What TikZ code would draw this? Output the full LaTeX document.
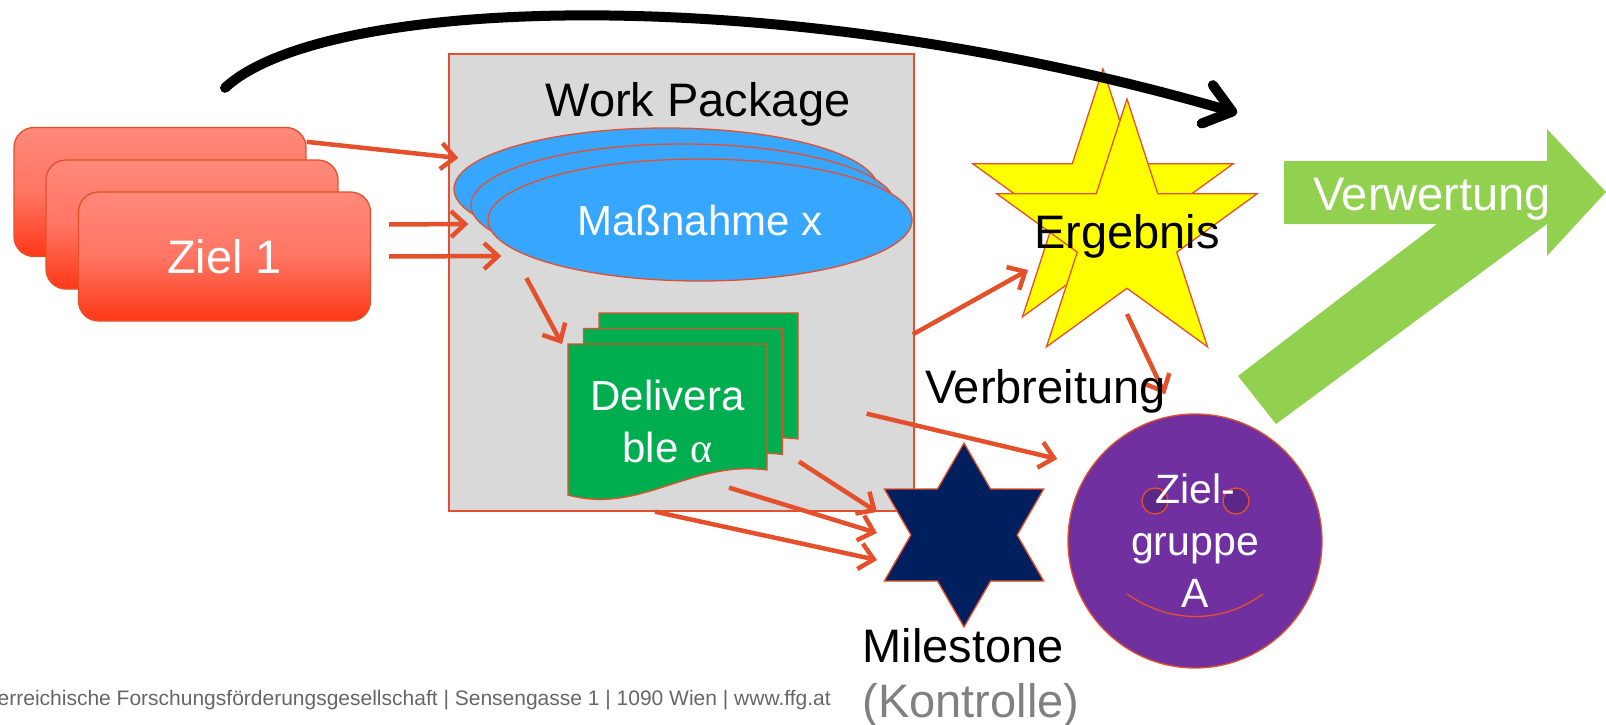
\documentclass[tikz,border=0pt]{standalone}
\usepackage{fontspec}
\setmainfont{Liberation Sans}
\newfontfamily\greekfont{Liberation Serif}
\usepackage{xcolor}
\usepackage{tikz}
\usetikzlibrary{positioning,shapes.geometric,arrows.meta}

\definecolor{ffgred}{HTML}{E4502B}
\definecolor{zielTop}{HTML}{FF8979}
\definecolor{zielMid}{HTML}{FF7563}
\definecolor{zielBot}{HTML}{FF3817}
\definecolor{wpgray}{HTML}{D9D9D9}
\definecolor{massblue}{HTML}{37A6FE}
\definecolor{delgreen}{HTML}{00AE50}
\definecolor{ergyellow}{HTML}{FFFF00}
\definecolor{milenavy}{HTML}{001F5E}
\definecolor{zgpurple}{HTML}{7030A0}
\definecolor{eyepurple}{HTML}{5C2888}
\definecolor{verwgreen}{HTML}{92D050}
\definecolor{kontgray}{HTML}{808080}
\definecolor{footgray}{HTML}{666666}

\begin{document}
\begin{tikzpicture}[x=1pt, y=-1pt,
    every node/.style={font=\fontsize{47}{52}\selectfont, inner sep=2pt},
    zielbox/.style={rectangle, rounded corners=20pt, draw=ffgred, line width=1.3pt, top color=zielTop, bottom color=zielBot, middle color=zielMid, minimum width=292pt, minimum height=129pt, text=white},
    massbox/.style={ellipse, draw=ffgred, line width=1.3pt, fill=massblue, minimum width=424pt, minimum height=122pt, text=white, font=\fontsize{42}{48}\selectfont},
    docsheet/.style={draw=ffgred, line width=1.3pt, fill=delgreen},
    ergstar/.style={star, star points=5, star point ratio=2.62, draw=ffgred, line width=1.3pt, fill=ergyellow, minimum size=274pt, inner sep=0pt},
    milestar/.style={star, star points=6, star point ratio=1.732, draw=ffgred, line width=1.3pt, fill=milenavy, minimum size=184pt, inner sep=0pt},
    zgcircle/.style={circle, draw=ffgred, line width=1.3pt, fill=zgpurple, minimum size=254pt},
    eye/.style={circle, draw=ffgred, line width=1.3pt, fill=eyepurple, minimum size=26pt, inner sep=0pt},
    flow/.style={draw=ffgred, line width=4.5pt, -{Straight Barb[length=14pt,width=26pt]}},
    bigflow/.style={draw=black, line width=10pt, line cap=round, -{Straight Barb[length=26pt,width=40pt,round]}},
    labw/.style={text=white}]
    \useasboundingbox (0,0) rectangle (1606,725);

    % work package
    \node[rectangle, draw=ffgred, line width=1.3pt, fill=wpgray, minimum width=465pt, minimum height=457pt] (wp) at (681.5,282.5) {};
    \node[anchor=base] (wptitle) at (698,116) {Work Package};

    \node[massbox] (mass1) at (666,189) {};
    \node[massbox] (mass2) at (683,205) {};
    \node[massbox] (mass3) at (700,220) {Maßnahme x};

    % deliverables
    \foreach \d in {31,15.5,0}
      \draw[docsheet, shift={(\d,-\d)}] (568,344) -- (767,344) -- (767,470) .. controls (690,460) and (640,515) .. (568,495) -- cycle;
    \coordinate (docA) at (568,344);
    \node[labw, align=center, font=\fontsize{42}{52}\selectfont] (deliv) at (667.5,421) {Delivera\\ble {\greekfont α}};

    % goals
    \node[zielbox] (zielA) at (160,192) {};
    \node[zielbox] (zielB) at (192,224.5) {};
    \node[zielbox] (zielC) at (224.5,256.5) {Ziel 1};

    % exploitation arrow
    \fill[verwgreen] (1284,161) -- (1547,161) -- (1547,129) -- (1606,192) -- (1547,256) -- (1547,224)
      -- (1276,424) -- (1238,376) -- (1437,224) -- (1284,224) -- cycle;
    \node[labw, anchor=base] (verw) at (1432,210) {Verwertung};

    % results
    \node[ergstar] (ergB) at (1103,206) {};
    \node[ergstar] (ergA) at (1127,236) {};
    \node (ergtxt) at (ergA) {Ergebnis};

    \node[milestar] (mile) at (964,535) {};

    % target group
    \node[zgcircle] (zgA) at (1195,541) {};
    \node[eye] (eyeL) at (1155,501) {};
    \node[eye] (eyeR) at (1236,501) {};
    \draw[ffgred, line width=1.3pt] (1127,594) .. controls (1170,624) and (1222,624) .. (1263,594);
    \node[labw, align=center, font=\fontsize{41}{52}\selectfont] (zgtxt) at (zgA) {Ziel-\\gruppe\\A};

    % connectors
    \draw[flow] ([yshift=-15pt]zielA.north east) -- ([shift={(5,-31)}]mass1.west);
    \draw[flow] ([shift={(18,-32)}]zielC.east) -- ([shift={(-2,19)}]mass2.west);
    \draw[flow] ([xshift=18pt]zielC.east) -- ([shift={(14,36)}]mass3.west);
    \draw[flow] ([shift={(39,58)}]mass3.west) -- ([xshift=-6pt]docA);
    \draw[flow] ([shift={(-2,52)}]wp.east) -- ([shift={(-99,34)}]ergA.center);
    \draw[flow] ([yshift=-25pt]ergA.south) -- ([shift={(-30,-19)}]zgA.north);
    \draw[flow] ([shift={(-48,-98)}]wp.south east) -- ([xshift=-40pt]zgA.140);
    \foreach \sx/\sy/\ty in {117.5/-50/-23, 47.5/-24/-2, -26.5/0/25}
      \draw[flow] ([shift={(\sx,\sy)}]wp.south) -- ([shift={(-87,\ty)}]mile.center);

    \node[anchor=base west] (verbr) at (923,403) {Verbreitung};
    \node[anchor=base] (msl) at (963,662) {Milestone};
    \node[anchor=base, text=kontgray] (kontr) at (971,717) {(Kontrolle)};
    \node[anchor=base east, text=footgray, font=\fontsize{21}{24}\selectfont] (ffgline) at (833,705)
      {erreichische Forschungsförderungsgesellschaft | Sensengasse 1 | 1090 Wien | www.ffg.at};

    % overall path
    \coordinate (verwDir) at (1237,113);
    \draw[bigflow] ([shift={(65,-39)}]zielA.north) .. controls (325,-5) and (780,-20) .. (verwDir);
\end{tikzpicture}
\end{document}
